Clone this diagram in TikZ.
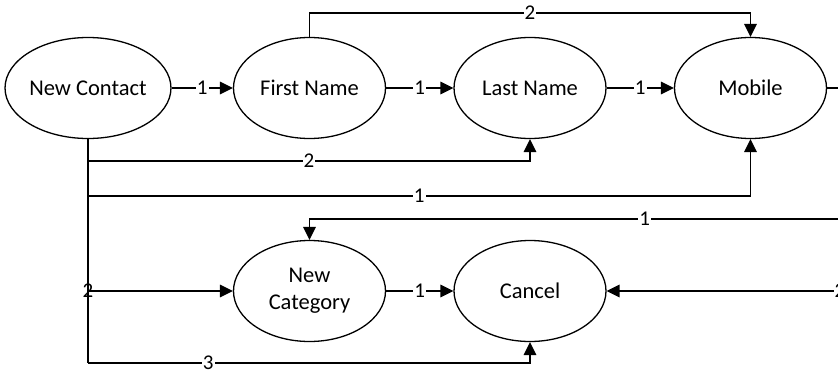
\documentclass[tikz,border=0pt]{standalone}
\usepackage{fontspec}
\setmainfont{Carlito}
\usetikzlibrary{shapes.geometric,arrows.meta}
\tikzset{
  state/.style={draw, ellipse, line width=1.3pt, minimum width=152pt, minimum height=101pt, inner sep=0pt, align=center, font=\fontsize{22.5}{27}\selectfont, fill=white},
  arr/.style={line width=1.7pt, -{Triangle[length=13pt,width=12.5pt]}},
  ln/.style={line width=1.7pt},
  lab/.style={fill=white, inner sep=1pt, font=\fontsize{21}{23}\selectfont}
}
\begin{document}
\begin{tikzpicture}[x=1pt,y=-1pt]
\useasboundingbox (0,0) rectangle (838,370);
\clip (0,0) rectangle (838,370);
\node[state] (nc) at (88,88) {New Contact};
\node[state] (fn) at (309.5,88) {First Name};
\node[state] (la) at (530,88) {Last Name};
\node[state] (mob) at (750.5,88) {Mobile};
\node[state] (cat) at (309.5,291) {New\\Category};
\node[state] (can) at (530,291) {Cancel};
\coordinate (top) at (0,13);
\coordinate (b2) at (0,161);
\coordinate (b1) at (0,196);
\coordinate (b4) at (0,363);
\coordinate (r0) at (850,88);
\coordinate (r2) at (850,219);
\coordinate (r3) at (850,291);
% main chain
\draw[arr] (nc) -- node[lab]{1} (fn);
\draw[arr] (fn) -- node[lab]{1} (la);
\draw[arr] (la) -- node[lab]{1} (mob);
\draw[ln] (mob) -- (r0);
\draw[arr] (fn.north) |- node[lab,pos=0.75]{2} (mob.north |- top) -- (mob.north);
% from New Contact
\draw[arr] (nc.south |- b2) -| node[lab,pos=0.25]{2} (la.south);
\draw[arr] (nc.south |- b1) -| node[lab,pos=0.25]{1} (mob.south);
\draw[arr] (nc.south |- cat.west) -- node[lab,pos=0,fill=none]{2} (cat.west);
\draw[arr] (nc.south |- b4) -| node[lab,pos=0.136]{3} (can.south);
\draw[ln] (nc.south) -- (nc.south |- b4);
% lower part
\draw[arr] (r2) -| node[lab,pos=0.19]{1} (cat.north);
\draw[arr] (cat) -- node[lab]{1} (can);
\draw[arr] (r3) -- node[lab,pos=0.041]{2} (can.east);
\end{tikzpicture}
\end{document}
